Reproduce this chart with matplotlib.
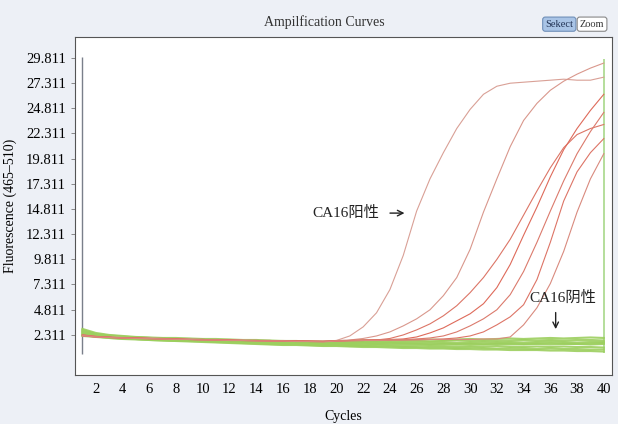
import matplotlib
matplotlib.use("Agg")
import matplotlib.pyplot as plt
import numpy as np

plt.rcParams["font.family"] = ["Liberation Serif", "Noto Sans CJK SC", "DejaVu Sans"]

cycles = np.arange(1, 41)

# positive samples (red)
pos_a = [2.3,2.15,2.1,2.05,2.0,2.0,1.95,1.9,1.9,1.85,1.85,1.8,1.8,1.75,1.75,1.7,1.7,1.7,1.65,1.75,
         2.2,3.1,4.5,6.8,10.2,14.6,17.8,20.4,22.8,24.7,26.2,27.0,27.3,27.4,27.5,27.6,27.7,27.6,27.6,27.9]
pos_b = [2.2,2.1,2.05,2.0,1.95,1.95,1.9,1.9,1.85,1.85,1.8,1.8,1.75,1.75,1.7,1.75,1.7,1.7,1.7,1.75,
         1.8,1.95,2.2,2.6,3.2,3.9,4.8,6.2,8.0,10.8,14.5,17.8,21.0,23.6,25.3,26.6,27.5,28.2,28.8,29.3]
pos_c = [2.25,2.1,2.05,2.0,2.0,1.95,1.9,1.9,1.85,1.8,1.8,1.75,1.75,1.75,1.7,1.7,1.7,1.65,1.65,1.7,
         1.75,1.75,1.8,1.95,2.3,2.8,3.4,4.2,5.2,6.5,8.0,9.8,11.8,14.2,16.6,18.9,20.9,22.2,22.8,23.2]
pos_d = [2.3,2.15,2.1,2.0,2.0,1.95,1.95,1.9,1.85,1.85,1.8,1.8,1.75,1.75,1.75,1.7,1.7,1.7,1.65,1.7,
         1.75,1.8,1.8,1.85,1.9,2.1,2.5,3.0,3.7,4.4,5.4,7.0,9.3,12.2,15.0,18.0,20.7,22.8,24.6,26.2]
pos_e = [2.2,2.1,2.05,2.0,1.95,1.9,1.9,1.85,1.85,1.8,1.8,1.75,1.75,1.7,1.7,1.7,1.65,1.65,1.65,1.7,
         1.75,1.8,1.8,1.8,1.85,1.9,2.0,2.2,2.6,3.2,3.9,4.8,6.3,8.6,11.5,14.6,17.6,20.3,22.5,24.4]
pos_f = [2.3,2.15,2.05,2.0,2.0,1.95,1.9,1.9,1.85,1.85,1.8,1.8,1.75,1.75,1.7,1.7,1.7,1.65,1.65,1.7,
         1.75,1.75,1.8,1.8,1.8,1.85,1.85,1.9,2.0,2.2,2.6,3.3,4.1,5.3,7.8,11.5,15.6,18.5,20.4,21.8]
pos_g = [2.25,2.1,2.05,2.0,1.95,1.95,1.9,1.85,1.85,1.8,1.8,1.75,1.75,1.7,1.7,1.7,1.65,1.65,1.6,1.7,
         1.7,1.75,1.75,1.8,1.8,1.8,1.85,1.85,1.85,1.85,1.9,1.9,2.1,3.3,5.0,7.4,10.6,14.5,17.8,20.3]
positives = [pos_a, pos_b, pos_c, pos_d, pos_e, pos_f, pos_g]
pos_colors = ["#d9a096", "#d9978c", "#dc7566", "#de6a5a", "#db7a6c", "#dd7466", "#d98a7e"]

# negative samples (green)
neg_1 = [2.9,2.5,2.3,2.2,2.1,2.05,2.0,2.0,1.95,1.9,1.9,1.85,1.8,1.8,1.75,1.7,1.7,1.65,1.65,1.6,
         1.7,1.75,1.7,1.8,1.75,1.8,1.85,1.8,1.85,1.9,1.85,1.9,1.95,1.9,1.95,2.0,1.95,2.0,2.05,2.0]
neg_2 = [2.7,2.35,2.2,2.1,2.05,2.0,1.95,1.9,1.9,1.85,1.8,1.8,1.75,1.7,1.7,1.65,1.6,1.6,1.55,1.55,
         1.6,1.6,1.65,1.6,1.65,1.7,1.65,1.7,1.75,1.7,1.75,1.7,1.75,1.8,1.75,1.8,1.75,1.8,1.8,1.75]
neg_3 = [2.6,2.3,2.15,2.05,2.0,1.95,1.9,1.85,1.8,1.8,1.75,1.7,1.65,1.6,1.6,1.55,1.5,1.5,1.45,1.5,
         1.5,1.55,1.5,1.55,1.5,1.55,1.6,1.55,1.5,1.55,1.6,1.55,1.6,1.55,1.6,1.65,1.6,1.55,1.6,1.6]
neg_4 = [2.5,2.25,2.1,2.0,1.95,1.9,1.85,1.8,1.75,1.75,1.7,1.65,1.6,1.55,1.5,1.5,1.45,1.4,1.4,1.35,
         1.4,1.35,1.4,1.35,1.4,1.4,1.35,1.4,1.35,1.4,1.35,1.4,1.4,1.35,1.4,1.35,1.4,1.4,1.35,1.4]
neg_5 = [2.4,2.2,2.05,1.95,1.9,1.85,1.8,1.75,1.7,1.7,1.65,1.6,1.55,1.5,1.45,1.4,1.4,1.35,1.3,1.3,
         1.3,1.25,1.3,1.25,1.2,1.25,1.2,1.2,1.15,1.2,1.15,1.2,1.15,1.1,1.15,1.1,1.15,1.1,1.1,1.05]
neg_6 = [2.3,2.15,2.0,1.95,1.9,1.8,1.75,1.7,1.7,1.65,1.6,1.55,1.5,1.45,1.4,1.35,1.35,1.3,1.25,1.25,
         1.2,1.2,1.15,1.15,1.1,1.1,1.05,1.05,1.0,1.05,1.0,0.95,1.0,0.95,0.9,0.95,0.9,0.9,0.85,0.85]
neg_7 = [2.2,2.1,2.0,1.9,1.85,1.8,1.75,1.7,1.65,1.6,1.55,1.5,1.45,1.4,1.35,1.3,1.3,1.25,1.2,1.2,
         1.15,1.1,1.1,1.05,1.0,1.0,0.95,0.95,0.9,0.9,0.85,0.85,0.8,0.8,0.8,0.75,0.75,0.7,0.7,0.65]
neg_8 = [2.8,2.4,2.25,2.15,2.05,2.0,1.95,1.9,1.85,1.8,1.8,1.75,1.7,1.65,1.65,1.6,1.55,1.55,1.5,1.5,
         1.45,1.5,1.45,1.5,1.45,1.45,1.4,1.45,1.4,1.45,1.4,1.45,1.45,1.4,1.45,1.5,1.45,1.4,1.45,1.5]
negatives = [neg_1, neg_2, neg_3, neg_4, neg_5, neg_6, neg_7, neg_8]

yticks = [2.311, 4.811, 7.311, 9.811, 12.311, 14.811, 17.311, 19.811, 22.311, 24.811, 27.311, 29.811]
xticks = list(range(2, 41, 2))

# edge lines drawn by the instrument software
left_edge = (1, 0.4, 29.9)
right_edge = (40, 0.5, 29.7)

BG = "#edf0f6"
fig = plt.figure(figsize=(6.18, 4.24), dpi=100, facecolor=BG)
ax = fig.add_axes([0.121, 0.116, 0.869, 0.797])
ax.set_facecolor("white")

ax.vlines(left_edge[0], left_edge[1], left_edge[2], color="#7a7f8a", lw=1.0)
ax.vlines(right_edge[0], right_edge[1], right_edge[2], color="#a8d88a", lw=1.2)

for ys in negatives:
    ax.plot(cycles, ys, color="#9ccf5e", lw=1.5, alpha=0.9)
for ys, c in zip(positives, pos_colors):
    ax.plot(cycles, ys, color=c, lw=0.8)

ax.set_xlim(0.43, 40.6)
ax.set_ylim(-1.66, 31.9)
ax.set_xticks(xticks)
ax.set_yticks(yticks)
ax.set_yticklabels([f"{v:.3f}" for v in yticks])
ax.tick_params(axis="both", labelsize=10.5, length=3, width=0.6, color="#777777")
ax.tick_params(axis="x", length=0, pad=6)
for s in ax.spines.values():
    s.set_color("#555555")
    s.set_linewidth(0.8)

ax.set_xlabel("Cycles", fontsize=10, labelpad=10)
ax.set_ylabel("Fluorescence (465–510)", fontsize=10, labelpad=6)

ax.text(20.7, 14.4, "CA16阳性", fontsize=11, ha="center", va="center", color="#222222")
ax.annotate("", xy=(25.3, 14.4), xytext=(23.8, 14.4),
            arrowprops=dict(arrowstyle="->", color="#222222", lw=1.0))
ax.text(36.9, 6.0, "CA16阴性", fontsize=11, ha="center", va="center", color="#222222")
ax.annotate("", xy=(36.4, 2.6), xytext=(36.4, 4.8),
            arrowprops=dict(arrowstyle="->", color="#222222", lw=1.0))

fig.text(0.524, 0.948, "Ampilfication Curves", ha="center", va="center", fontsize=10, color="#333333")
fig.text(0.905, 0.943, "Sekect", ha="center", va="center", fontsize=7.5, color="#223355",
         bbox=dict(boxstyle="round,pad=0.25", fc="#a9c4e6", ec="#6f8fb8", lw=0.8))
fig.text(0.958, 0.943, "Zoom", ha="center", va="center", fontsize=7.5, color="#333333",
         bbox=dict(boxstyle="round,pad=0.25", fc="white", ec="#888888", lw=0.8))

fig.savefig("out.png", dpi=100, facecolor=BG)
